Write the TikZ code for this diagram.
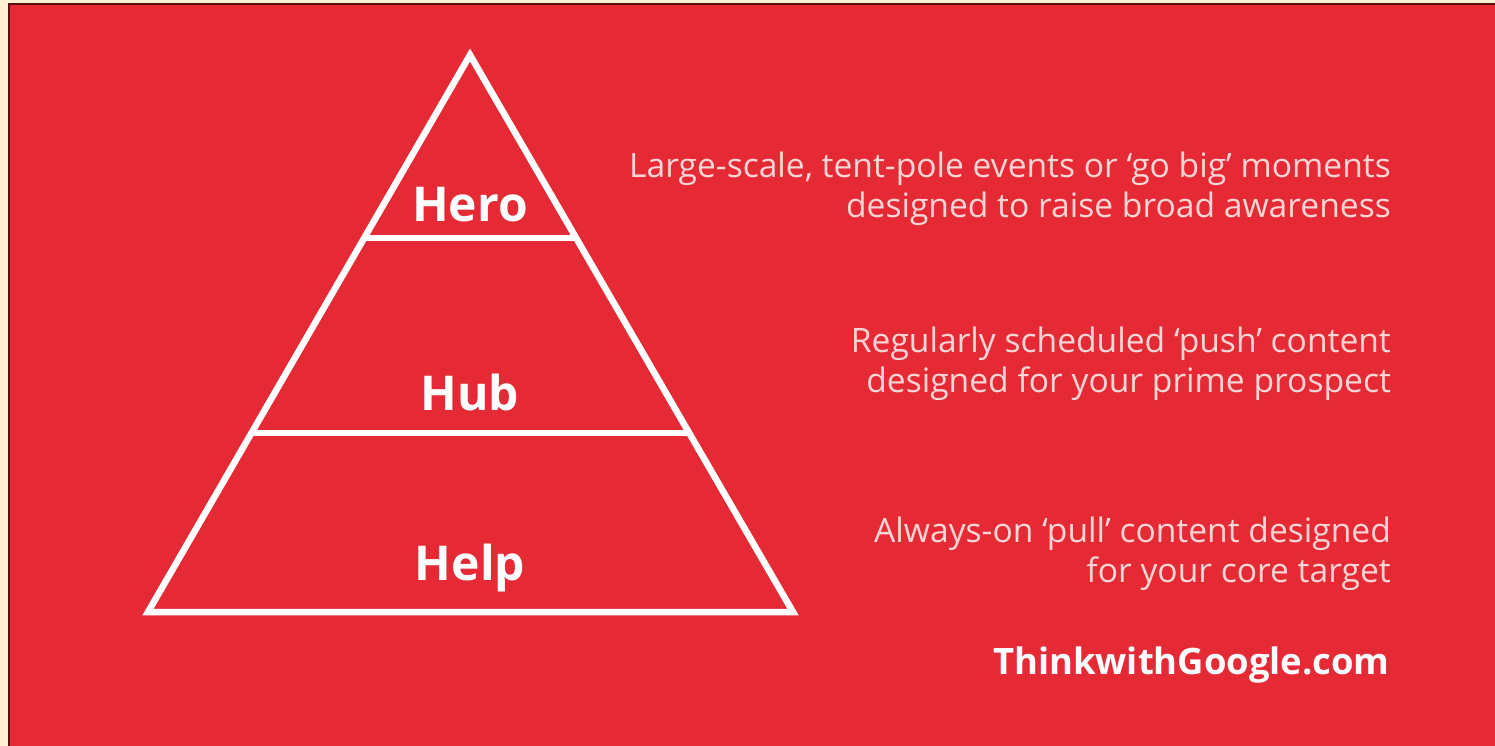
\documentclass[tikz,border=0pt]{standalone}
\usepackage{fontspec}
\setmainfont{Open Sans}
\usetikzlibrary{positioning}
\definecolor{gred}{HTML}{E52A36}
\definecolor{gpaper}{HTML}{FFF2D2}
\definecolor{gedge}{HTML}{5A0F0F}
\definecolor{gtext}{HTML}{F8D6D4}

\begin{document}
\begin{tikzpicture}
  [x=1pt,y=-1pt,
   level/.style={font=\fontsize{48}{50}\selectfont\bfseries,text=white},
   blurb/.style={font=\fontsize{33.6}{40.5}\selectfont,text=gtext,align=right,anchor=east,inner sep=0pt},
   tier/.style={draw=white,line width=6.5pt}]
  % page and red card
  \fill[gpaper] (0,0) rectangle (1495,746);
  \fill[gedge] (8,3) rectangle (1495,746);
  \fill[gred] (10,5) rectangle (1495,746);
  \useasboundingbox (0,0) rectangle (1495,746);

  % pyramid
  \coordinate (top) at (470,55);
  \coordinate (bl) at (148,612);
  \coordinate (br) at (793,612);
  \draw[tier,line join=miter] (top) -- (bl) -- (br) -- cycle;
  \draw[tier] (364,238) -- (576,238);
  \draw[tier] (252,433) -- (688,433);

  \node[level] (hero) at (470,205) {Hero};
  \node[level] (hub) at (470,392) {Hub};
  \node[level] (help) at (470,568) {Help};

  \node[blurb] (herotxt) at (1391,189) {Large-scale, tent-pole events or ‘go big’ moments\\designed to raise broad awareness};
  \node[blurb] (hubtxt) at (1391,364) {Regularly scheduled ‘push’ content\\designed for your prime prospect};
  \node[blurb] (helptxt) at (1391,554) {Always-on ‘pull’ content designed\\for your core target};

  \node[anchor=east,inner sep=0pt,text=white,font=\fontsize{36.4}{40}\selectfont\bfseries] (site) at (1390,665) {ThinkwithGoogle.com};
\end{tikzpicture}
\end{document}
